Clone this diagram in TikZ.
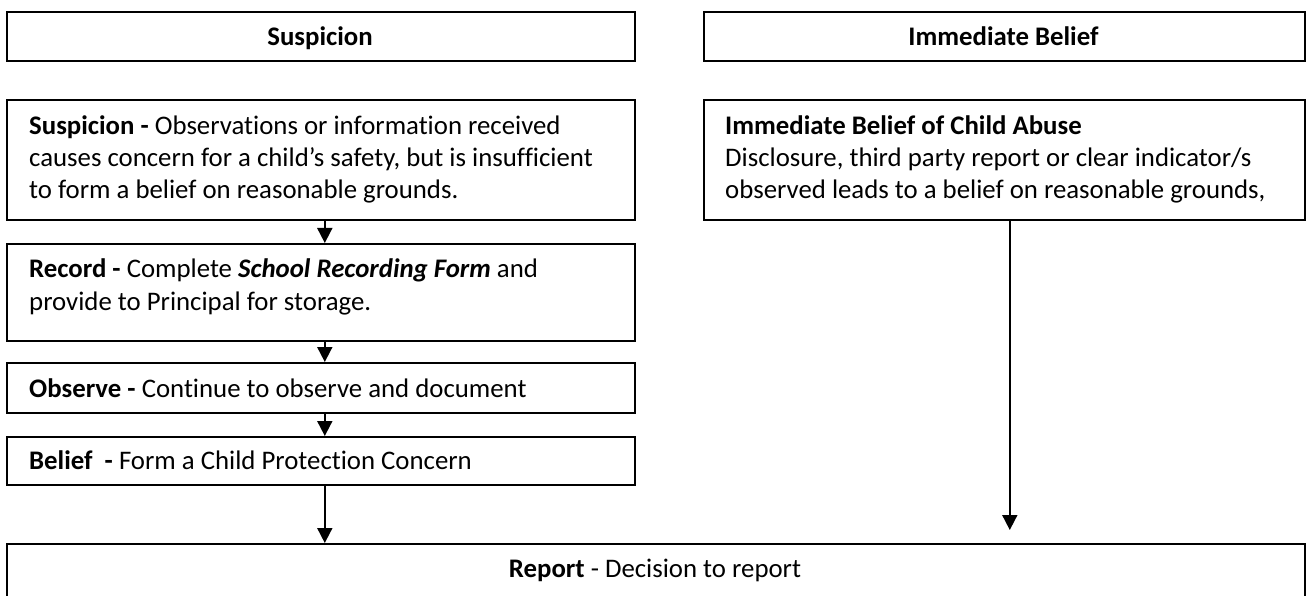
\documentclass[tikz,border=0pt]{standalone}
\usepackage{fontspec}
\setmainfont{Carlito}[Ligatures=NoCommon]
\usetikzlibrary{arrows.meta}
\begin{document}
\begin{tikzpicture}[x=1pt,y=-1pt,
  box/.style={draw=black, line width=1.6pt, rectangle, inner sep=0pt, anchor=north west},
  txt/.style={anchor=base west, inner sep=0pt, font=\fontsize{26.8}{32}\selectfont},
  ctxt/.style={anchor=base, inner sep=0pt, font=\fontsize{26.8}{32}\selectfont},
  arr/.style={line width=1.8pt, -{Triangle[length=15pt,width=15pt]}}]
\useasboundingbox (0,0) rectangle (1307,596);
\clip (0,0) rectangle (1307,596);
% headers
\node[box, minimum width=628pt, minimum height=49pt] (hs) at (6,11) {};
\node[box, minimum width=601pt, minimum height=49pt] (hi) at (703,11) {};
\node[ctxt] (hst) at (320,46) {\textbf{Suspicion}};
\node[ctxt] (hit) at (1003.5,46) {\textbf{Immediate Belief}};
% left column
\node[box, minimum width=628pt, minimum height=120pt] (sus) at (6,99) {};
\node[txt] (sus1) at (29,135) {\textbf{Suspicion -} Observations or information received};
\node[txt] (sus2) at (29,167) {causes concern for a child’s safety, but is insufficient};
\node[txt] (sus3) at (29,199) {to form a belief on reasonable grounds.};
\node[box, minimum width=628pt, minimum height=97pt] (rec) at (6,243) {};
\node[txt] (rec1) at (29,278) {\textbf{Record -} Complete \textbf{\textit{School Recording Form}} and};
\node[txt] (rec2) at (29,310) {provide to Principal for storage.};
\node[box, minimum width=628pt, minimum height=50pt] (obs) at (6,362) {};
\node[txt] (obs1) at (29,397) {\textbf{Observe -} Continue to observe and document};
\node[box, minimum width=628pt, minimum height=48pt] (bel) at (6,436) {};
\node[txt] (bel1) at (29,469) {\textbf{Belief\ \ -} Form a Child Protection Concern};
% right column
\node[box, minimum width=601pt, minimum height=120pt] (imm) at (703,99) {};
\node[txt] (imm1) at (725,135) {\textbf{Immediate Belief of Child Abuse}};
\node[txt] (imm2) at (725,167) {Disclosure, third party report or clear indicator/s};
\node[txt] (imm3) at (725,199) {observed leads to a belief on reasonable grounds,};
% report
\node[box, minimum width=1298pt, minimum height=90pt] (rep) at (6,543) {};
\node[ctxt] (rept) at (655,577) {\textbf{Report} - Decision to report};
% arrows
\draw[arr] ([xshift=4pt]sus.south) -- ([xshift=4pt]rec.north);
\draw[arr] ([xshift=4pt]rec.south) -- ([xshift=4pt]obs.north);
\draw[arr] ([xshift=4pt]obs.south) -- ([xshift=4pt]bel.north);
\draw[arr] ([xshift=4pt]bel.south) -- ([xshift=4pt]bel.south |- rep.north);
\draw[arr, shorten >=13pt] ([xshift=5.5pt]imm.south) -- ([xshift=5.5pt]imm.south |- rep.north);
\end{tikzpicture}
\end{document}
